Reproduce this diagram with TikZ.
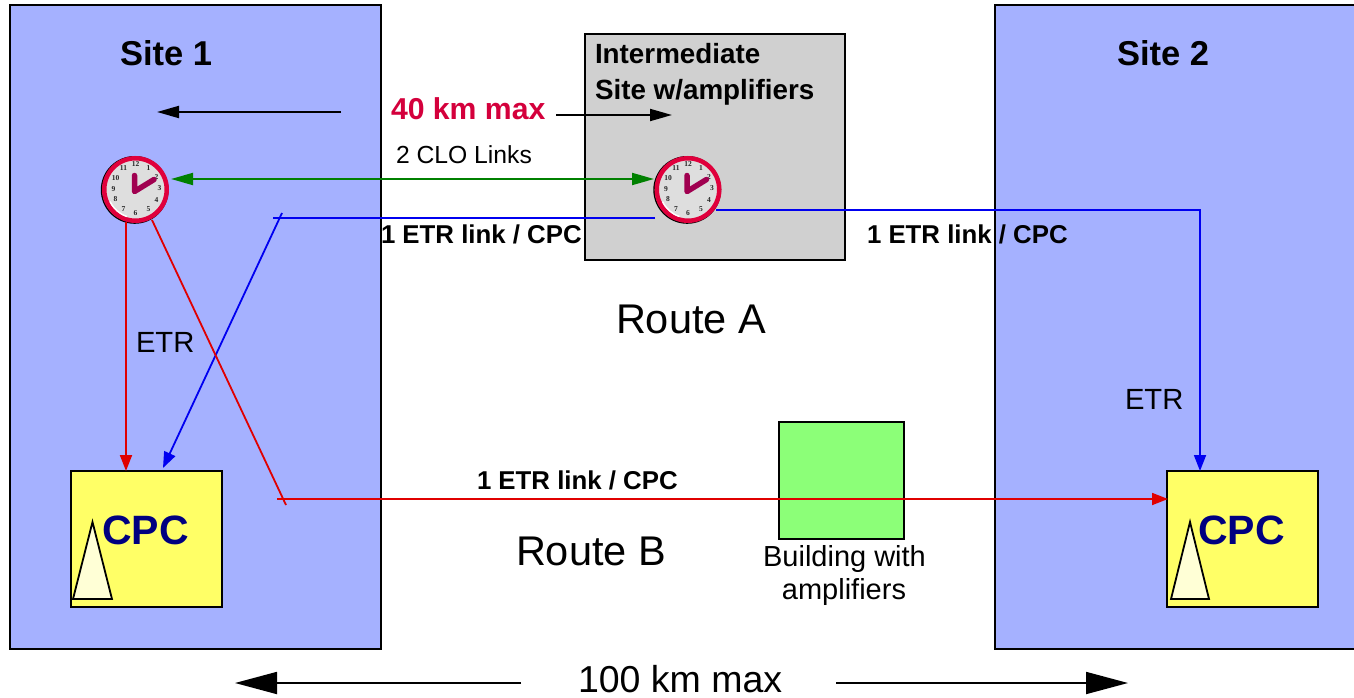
\documentclass[tikz,border=0pt]{standalone}
\usepackage{fontspec}
\setmainfont{Liberation Sans}
\usetikzlibrary{arrows.meta}
\definecolor{siteblue}{HTML}{A5B1FF}
\definecolor{cpcyellow}{HTML}{FFFF66}
\definecolor{tricream}{HTML}{FFFFD6}
\definecolor{sitegray}{HTML}{D0D0D0}
\definecolor{bldgreen}{HTML}{8CFF78}
\definecolor{cpcnavy}{HTML}{000080}
\definecolor{linered}{HTML}{E00000}
\definecolor{linegreen}{HTML}{008000}
\definecolor{lineblue}{HTML}{0000F0}
\definecolor{maxred}{HTML}{D4003C}
\definecolor{rimred}{HTML}{E0003C}
\definecolor{handred}{HTML}{A00050}
\definecolor{faceg}{HTML}{DEDEDE}
\newcommand{\fsz}[2]{\fontsize{#1pt}{#2pt}\selectfont}
\tikzset{
  x=1pt,y=-1pt,
  every node/.style={inner sep=0pt,outer sep=0pt},
  sitebox/.style={draw=black,line width=1.8pt,fill=siteblue},
  blackbox/.style={draw=black,line width=1.8pt},
  smallhead/.style={-{Triangle[length=22pt,width=12pt]}},
  redhead/.style={-{Triangle[length=16pt,width=12pt]}},
  conn/.style={line width=1.8pt},
  bigarrow/.style={line width=1.8pt,-{Triangle[length=42pt,width=22pt]}},
  clockrim/.style={circle,minimum size=62.5pt,draw=rimred,line width=4.5pt,fill=faceg},
  clockdigit/.style={font=\fontspec{Liberation Serif}\bfseries\fsz{7.5}{8},text=black!85},
  lbl/.style={anchor=base west},
  boldlbl/.style={anchor=base west,font=\bfseries\fsz{25.8}{30}},
}
\newcommand{\clock}[3]{% name, x, y
  \draw[black,line width=1.4pt] (#2-0.8,#3+0.4) circle[radius=33.2pt];
  \node[clockrim] (#1) at (#2,#3) {};
  \draw[white,line width=1.4pt] (#2,#3) ++(-8.5,27) arc[start angle=252,end angle=205,radius=28.3pt];
  \foreach \h/\dx/\dy in {12/0/-25,1/13/-21,2/21/-12.5,3/24/-1,4/21/11,5/13/20,6/0/24,7/-12/20,8/-20/10,9/-22/0,10/-20/-11.5,11/-12/-21}{
    \node[clockdigit] (#1-d\h) at (#2+\dx,#3+\dy) {\h};
  }
  \draw[handred,line width=5.5pt,line cap=round,line join=round] (#2-1,#3-14) -- (#2-1,#3+2) -- (#2+18.5,#3-10);
}
\begin{document}
\begin{tikzpicture}
\useasboundingbox (0,0) rectangle (1354,698);
\fill[white] (0,0) rectangle (1354,698);
% sites
\draw[sitebox] (10,5) rectangle (381,649);
\draw[sitebox] (995,5) rectangle (1356,649);
\draw[blackbox,fill=sitegray] (585,34) rectangle (845,260);
\node[draw=black,line width=1.8pt,fill=bldgreen,minimum width=125pt,minimum height=117pt] (bld) at (841.5,480.5) {};
\node[draw=black,line width=1.8pt,fill=cpcyellow,minimum width=151pt,minimum height=136pt] (cpca) at (146.5,539) {};
\node[draw=black,line width=1.8pt,fill=cpcyellow,minimum width=151pt,minimum height=136pt] (cpcb) at (1242.5,539) {};
\draw[black,line width=1.8pt,fill=tricream] (92.5,522) -- (112,599) -- (73,599) -- cycle;
\draw[black,line width=1.8pt,fill=tricream] (1190,522) -- (1209,599) -- (1171,599) -- cycle;
\node[anchor=base,font=\bfseries\fsz{41}{44},text=cpcnavy] (cpcla) at (145.5,544) {CPC};
\node[anchor=base,font=\bfseries\fsz{41}{44},text=cpcnavy] (cpclb) at (1241.5,544) {CPC};
% clocks
\clock{clka}{135.5}{189.5}
\clock{clkb}{688}{189.5}
% coordinates
\coordinate (blkl0) at (341,112);
\coordinate (blkl1) at (157,112);
\coordinate (blkr0) at (556,115);
\coordinate (blkr1) at (672,115);
\coordinate (green0) at (171,179);
\coordinate (green1) at (654,179);
\coordinate (bluestart) at (655,218);
\coordinate (bluemid) at (273,218);
\coordinate (bluetick) at (282,213);
\coordinate (blueend) at (163,468);
\coordinate (blueA) at (716,210);
\coordinate (blueB) at (1200,210);
\coordinate (blueC) at (1200,471);
\coordinate (reda0) at (126,222);
\coordinate (reda1) at (126,471);
\coordinate (redb0) at (152,220);
\coordinate (redb1) at (286,505);
\coordinate (redc0) at (277,499);
\coordinate (redc1) at (1168,499);
\coordinate (bigl0) at (521,683);
\coordinate (bigl1) at (235,683);
\coordinate (bigr0) at (836,683);
\coordinate (bigr1) at (1128,683);
% connectors
\draw[conn,smallhead] (blkl0) -- (blkl1);
\draw[conn,smallhead] (blkr0) -- (blkr1);
\draw[line width=1.8pt,draw=linegreen,fill=linegreen,{Triangle[length=22pt,width=12pt]}-{Triangle[length=22pt,width=12pt]}] (green0) -- (green1);
\draw[conn,lineblue] (bluestart) -- (bluemid);
\draw[conn,lineblue,redhead] (bluetick) -- (blueend);
\draw[conn,lineblue,redhead] (blueA) -- (blueB) -- (blueC);
\draw[conn,linered,redhead] (reda0) -- (reda1);
\draw[conn,linered] (redb0) -- (redb1);
\draw[conn,linered,redhead] (redc0) -- (redc1);
\draw[bigarrow] (bigl0) -- (bigl1);
\draw[bigarrow] (bigr0) -- (bigr1);
% labels
\node[anchor=base west,font=\bfseries\fsz{34.5}{36}] (s1) at (120,66) {Site 1};
\node[anchor=base west,font=\bfseries\fsz{34.5}{36}] (s2) at (1117,66) {Site 2};
\node[anchor=base west,font=\bfseries\fsz{27.8}{30}] (im1) at (595,64) {Intermediate};
\node[anchor=base west,font=\bfseries\fsz{27.8}{30}] (im2) at (595,100) {Site w/amplifiers};
\node[anchor=base west,font=\bfseries\fsz{30.2}{32},text=maxred] (km40) at (391,120) {40 km max};
\node[lbl,font=\fsz{24.7}{28}] (clo) at (396,163) {2 CLO Links};
\node[boldlbl] (e1) at (381,243) {1 ETR link / CPC};
\node[boldlbl] (e2) at (867,243) {1 ETR link / CPC};
\node[boldlbl] (e3) at (477,489) {1 ETR link / CPC};
\node[lbl,font=\fsz{41.5}{44}] (ra) at (616,333) {Route A};
\node[lbl,font=\fsz{41.5}{44}] (rb) at (516,565) {Route B};
\node[lbl,font=\fsz{29.2}{32}] (et1) at (136,352) {ETR};
\node[lbl,font=\fsz{29.2}{32}] (et2) at (1125,409) {ETR};
\node[anchor=base,font=\fsz{29}{32}] (b1) at (844.5,566) {Building with};
\node[anchor=base,font=\fsz{29}{32}] (b2) at (844,599) {amplifiers};
\node[lbl,font=\fsz{37.5}{40}] (km100) at (578,692) {100 km max};
\end{tikzpicture}
\end{document}
